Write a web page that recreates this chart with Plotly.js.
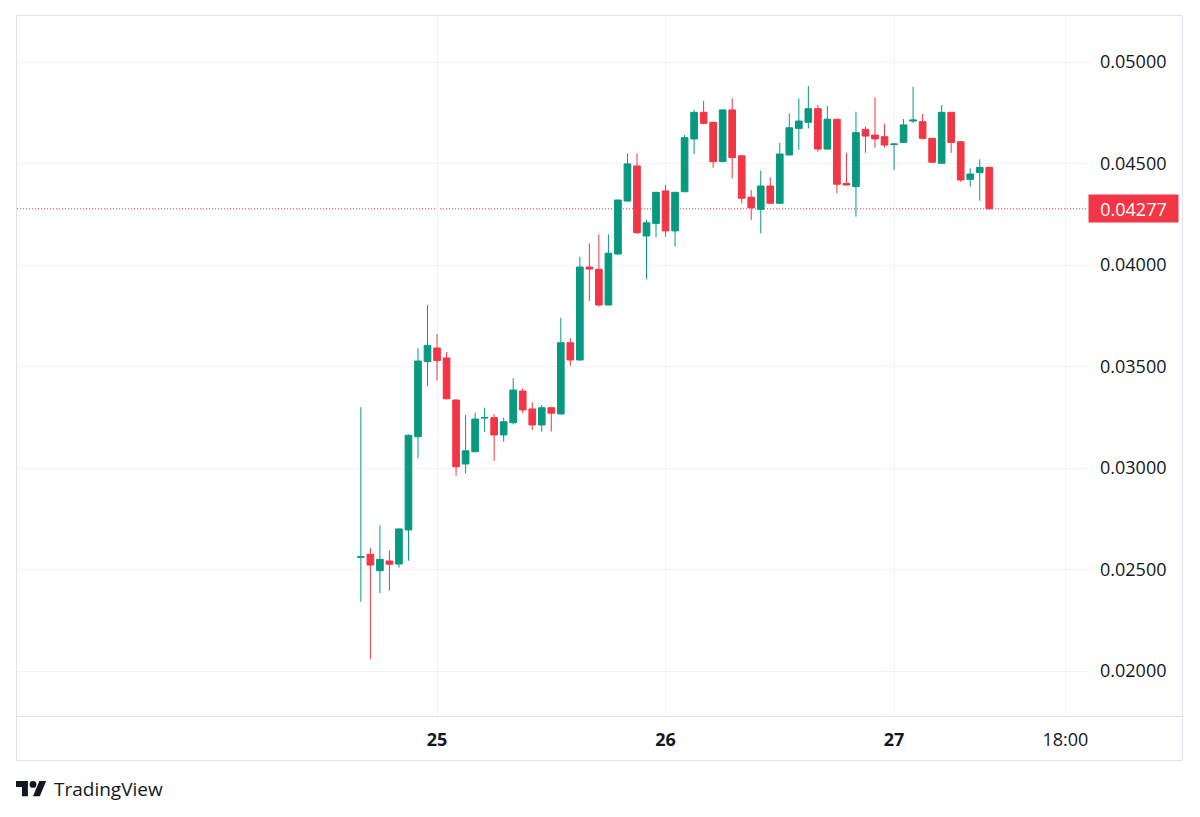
<!DOCTYPE html>
<html>
<head>
<meta charset="utf-8">
<script src="https://cdn.plot.ly/plotly-3.0.1.min.js"></script>
<style>
  html, body { margin: 0; padding: 0; background: #ffffff; }
  #chart { width: 1200px; height: 817px; }
</style>
</head>
<body>
<div id="chart"></div>
<script>
// Hourly candles, 24 Jan 16:00 to 27 Jan 10:00
const times = [
  '2025-01-24 16:00', '2025-01-24 17:00', '2025-01-24 18:00', '2025-01-24 19:00',
  '2025-01-24 20:00', '2025-01-24 21:00', '2025-01-24 22:00', '2025-01-24 23:00',
  '2025-01-25 00:00', '2025-01-25 01:00', '2025-01-25 02:00', '2025-01-25 03:00',
  '2025-01-25 04:00', '2025-01-25 05:00', '2025-01-25 06:00', '2025-01-25 07:00',
  '2025-01-25 08:00', '2025-01-25 09:00', '2025-01-25 10:00', '2025-01-25 11:00',
  '2025-01-25 12:00', '2025-01-25 13:00', '2025-01-25 14:00', '2025-01-25 15:00',
  '2025-01-25 16:00', '2025-01-25 17:00', '2025-01-25 18:00', '2025-01-25 19:00',
  '2025-01-25 20:00', '2025-01-25 21:00', '2025-01-25 22:00', '2025-01-25 23:00',
  '2025-01-26 00:00', '2025-01-26 01:00', '2025-01-26 02:00', '2025-01-26 03:00',
  '2025-01-26 04:00', '2025-01-26 05:00', '2025-01-26 06:00', '2025-01-26 07:00',
  '2025-01-26 08:00', '2025-01-26 09:00', '2025-01-26 10:00', '2025-01-26 11:00',
  '2025-01-26 12:00', '2025-01-26 13:00', '2025-01-26 14:00', '2025-01-26 15:00',
  '2025-01-26 16:00', '2025-01-26 17:00', '2025-01-26 18:00', '2025-01-26 19:00',
  '2025-01-26 20:00', '2025-01-26 21:00', '2025-01-26 22:00', '2025-01-26 23:00',
  '2025-01-27 00:00', '2025-01-27 01:00', '2025-01-27 02:00', '2025-01-27 03:00',
  '2025-01-27 04:00', '2025-01-27 05:00', '2025-01-27 06:00', '2025-01-27 07:00',
  '2025-01-27 08:00', '2025-01-27 09:00', '2025-01-27 10:00'
];

const opens = [
  0.02560, 0.02575, 0.02494, 0.02542, 0.02527, 0.02695, 0.03154, 0.03524,
  0.03591, 0.03542, 0.03335, 0.03020, 0.03080, 0.03246, 0.03248, 0.03163,
  0.03223, 0.03379, 0.03291, 0.03212, 0.03297, 0.03266, 0.03617, 0.03532,
  0.03990, 0.03979, 0.03803, 0.04054, 0.04315, 0.04488, 0.04143, 0.04205,
  0.04365, 0.04168, 0.04361, 0.04621, 0.04752, 0.04703, 0.04509, 0.04764,
  0.04538, 0.04334, 0.04274, 0.04389, 0.04304, 0.04542, 0.04673, 0.04703,
  0.04770, 0.04571, 0.04718, 0.04402, 0.04386, 0.04668, 0.04640, 0.04632,
  0.04594, 0.04604, 0.04709, 0.04706, 0.04624, 0.04501, 0.04752, 0.04607,
  0.04422, 0.04455, 0.04481
];

const highs = [
  0.03300, 0.02607, 0.02718, 0.02593, 0.02702, 0.03165, 0.03590, 0.03803,
  0.03660, 0.03571, 0.03337, 0.03261, 0.03272, 0.03297, 0.03265, 0.03248,
  0.03442, 0.03393, 0.03324, 0.03310, 0.03300, 0.03740, 0.03639, 0.04041,
  0.04107, 0.04151, 0.04151, 0.04322, 0.04550, 0.04550, 0.04222, 0.04360,
  0.04394, 0.04360, 0.04640, 0.04764, 0.04808, 0.04705, 0.04766, 0.04821,
  0.04540, 0.04369, 0.04465, 0.04432, 0.04602, 0.04747, 0.04821, 0.04882,
  0.04788, 0.04783, 0.04720, 0.04553, 0.04755, 0.04681, 0.04826, 0.04695,
  0.04597, 0.04719, 0.04878, 0.04744, 0.04626, 0.04788, 0.04754, 0.04609,
  0.04476, 0.04521, 0.04483
];

const lows = [
  0.02341, 0.02058, 0.02383, 0.02396, 0.02509, 0.02543, 0.03048, 0.03404,
  0.03430, 0.03338, 0.02962, 0.02974, 0.03078, 0.03179, 0.03035, 0.03130,
  0.03215, 0.03270, 0.03187, 0.03179, 0.03179, 0.03264, 0.03504, 0.03530,
  0.03823, 0.03795, 0.03801, 0.04052, 0.04313, 0.04153, 0.03930, 0.04136,
  0.04139, 0.04090, 0.04359, 0.04547, 0.04693, 0.04479, 0.04507, 0.04427,
  0.04304, 0.04222, 0.04156, 0.04302, 0.04302, 0.04540, 0.04567, 0.04673,
  0.04558, 0.04569, 0.04353, 0.04392, 0.04238, 0.04553, 0.04578, 0.04578,
  0.04468, 0.04602, 0.04698, 0.04619, 0.04504, 0.04499, 0.04553, 0.04410,
  0.04386, 0.04317, 0.04274
];

const closes = [
  0.02563, 0.02522, 0.02550, 0.02526, 0.02700, 0.03161, 0.03527, 0.03604,
  0.03529, 0.03341, 0.03006, 0.03085, 0.03241, 0.03249, 0.03163, 0.03228,
  0.03384, 0.03286, 0.03212, 0.03297, 0.03270, 0.03617, 0.03532, 0.03990,
  0.03980, 0.03803, 0.04058, 0.04320, 0.04498, 0.04159, 0.04208, 0.04358,
  0.04168, 0.04358, 0.04627, 0.04752, 0.04698, 0.04509, 0.04764, 0.04529,
  0.04329, 0.04282, 0.04389, 0.04304, 0.04547, 0.04676, 0.04709, 0.04770,
  0.04571, 0.04718, 0.04398, 0.04394, 0.04652, 0.04635, 0.04621, 0.04591,
  0.04596, 0.04690, 0.04714, 0.04624, 0.04506, 0.04752, 0.04604, 0.04419,
  0.04448, 0.04481, 0.04277
];

// Axis ticks
const priceTicks = [0.020, 0.025, 0.030, 0.035, 0.040, 0.045, 0.050];
const timeTickVals = ['2025-01-25 00:00', '2025-01-26 00:00', '2025-01-27 00:00', '2025-01-27 18:00'];
const timeTickText = ['<b>25</b>', '<b>26</b>', '<b>27</b>', '18:00'];

// Layout geometry (pixels)
const W = 1200, H = 817;
const PL = 17, PR = 1087, PT = 15, PB = 716;
const px = v => (v - PL) / (PR - PL);   // pixel x -> paper x
const py = v => (PB - v) / (PB - PT);   // pixel y -> paper y

const UP = '#089981', DOWN = '#f23645';
const FONT = '"Open Sans", "Noto Sans", sans-serif';
const TEXT = '#131722';
const GRID = '#f0f3fa';
const BORDER = '#e0e3eb';

const lastClose = closes[closes.length - 1];

const candles = {
  type: 'candlestick',
  x: times,
  open: opens,
  high: highs,
  low: lows,
  close: closes,
  increasing: { line: { color: UP, width: 1 }, fillcolor: UP },
  decreasing: { line: { color: DOWN, width: 1 }, fillcolor: DOWN },
  whiskerwidth: 0,
  hoverinfo: 'x+y',
  showlegend: false
};

// TradingView mark, drawn in pixels relative to the bottom-left of the plot area
const s = 0.85, ox = 16, oy = 781;
const toRel = (X, Y) => [(ox + s * X - PL).toFixed(2), (PB - (oy + s * (Y - 4))).toFixed(2)];
const poly = pts => 'M' + pts.map(p => toRel(p[0], p[1]).join(',')).join(' L') + ' Z';
const logoT = poly([[14, 22], [7, 22], [7, 11], [0, 11], [0, 4], [14, 4]]);
const logoSlash = poly([[28, 22], [20, 22], [27.5, 4], [35.5, 4]]);
const c0 = toRel(16, 4), c1 = toRel(24, 12);

const shapes = [
  // outer frame
  { type: 'rect', xref: 'paper', yref: 'paper',
    x0: px(16.5), x1: px(1182.5), y0: py(760.5), y1: py(15.5),
    line: { color: BORDER, width: 1 }, fillcolor: 'rgba(0,0,0,0)', layer: 'above' },
  // time scale separator
  { type: 'line', xref: 'paper', yref: 'paper',
    x0: px(17), x1: px(1182.5), y0: py(716.5), y1: py(716.5),
    line: { color: BORDER, width: 1 }, layer: 'above' },
  // last price line
  { type: 'line', xref: 'paper', yref: 'y',
    x0: 0, x1: 1, y0: lastClose, y1: lastClose,
    line: { color: DOWN, width: 1, dash: '1px,2px' }, layer: 'below' },
  // logo
  { type: 'path', xref: 'paper', yref: 'paper', xsizemode: 'pixel', ysizemode: 'pixel',
    xanchor: 0, yanchor: 0, path: logoT, fillcolor: TEXT, line: { width: 0 } },
  { type: 'path', xref: 'paper', yref: 'paper', xsizemode: 'pixel', ysizemode: 'pixel',
    xanchor: 0, yanchor: 0, path: logoSlash, fillcolor: TEXT, line: { width: 0 } },
  { type: 'circle', xref: 'paper', yref: 'paper', xsizemode: 'pixel', ysizemode: 'pixel',
    xanchor: 0, yanchor: 0, x0: +c0[0], x1: +c1[0], y0: +c1[1], y1: +c0[1],
    fillcolor: TEXT, line: { width: 0 } }
];

const annotations = [
  { xref: 'paper', yref: 'y', x: 1, y: lastClose, xanchor: 'left', yanchor: 'middle',
    xshift: 1, text: lastClose.toFixed(5), showarrow: false,
    bgcolor: DOWN, borderpad: 2, width: 85, height: 23, align: 'center',
    font: { family: FONT, size: 18, color: '#ffffff' } },
  { xref: 'paper', yref: 'paper', x: px(52), y: py(789), xanchor: 'left', yanchor: 'middle',
    text: 'TradingView', showarrow: false,
    font: { family: FONT, size: 19, color: TEXT } }
];

const layout = {
  width: W, height: H,
  margin: { l: PL, r: W - PR, t: PT, b: H - PB, pad: 0 },
  paper_bgcolor: '#ffffff',
  plot_bgcolor: '#ffffff',
  showlegend: false,
  boxgap: 0.3,
  boxgroupgap: 0,
  font: { family: FONT, size: 18, color: TEXT },
  xaxis: {
    type: 'date',
    range: ['2025-01-23 03:53', '2025-01-27 20:16'],
    tickmode: 'array', tickvals: timeTickVals, ticktext: timeTickText,
    showgrid: true, gridcolor: GRID, gridwidth: 1,
    zeroline: false, showline: false, ticks: '',
    ticklabelstandoff: 11,
    tickfont: { family: FONT, size: 18, color: TEXT },
    rangeslider: { visible: false },
    fixedrange: true
  },
  yaxis: {
    side: 'right',
    range: [0.017784, 0.052315],
    tickmode: 'array', tickvals: priceTicks,
    tickformat: '.5f',
    showgrid: true, gridcolor: GRID, gridwidth: 1,
    zeroline: false, showline: false, ticks: '',
    ticklabelstandoff: 12,
    tickfont: { family: FONT, size: 18, color: TEXT },
    fixedrange: true
  },
  shapes: shapes,
  annotations: annotations
};

Plotly.newPlot('chart', [candles], layout, { displayModeBar: false, staticPlot: true });
</script>
</body>
</html>
